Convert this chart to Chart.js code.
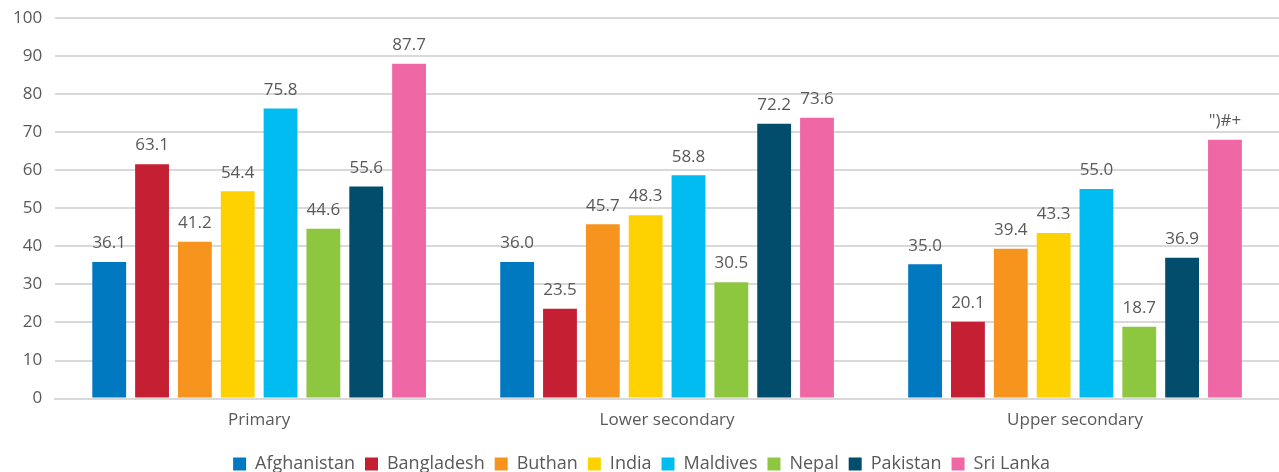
<!DOCTYPE html>
<html lang="en">
<head>
    <meta charset="UTF-8">
    <title>Education by level - South Asia</title>
    <script src="https://cdn.jsdelivr.net/npm/chart.js"></script>
    <style>
        html, body { margin: 0; padding: 0; background: #fff; }
        #wrap { width: 1279px; height: 472px; }
    </style>
</head>
<body>
    <div id="wrap"><canvas id="eduChart"></canvas></div>

    <script>
        // categories and series
        let levels = ['Primary', 'Lower secondary', 'Upper secondary'];
        let countries = ['Afghanistan', 'Bangladesh', 'Buthan', 'India', 'Maldives', 'Nepal', 'Pakistan', 'Sri Lanka'];
        let colors = ['#0079C1', '#C41F33', '#F7941D', '#FED100', '#00BCF1', '#8DC63F', '#024D6B', '#F067A6'];

        // bar heights as drawn, per country: [primary, lower secondary, upper secondary]
        let afghanistan = [35.9, 35.9, 35.3];
        let bangladesh = [61.6, 23.6, 20.2];
        let buthan = [41.2, 45.8, 39.4];
        let india = [54.5, 48.2, 43.5];
        let maldives = [76.2, 58.7, 55.1];
        let nepal = [44.6, 30.6, 18.9];
        let pakistan = [55.7, 72.2, 37.0];
        let sriLanka = [88.0, 73.8, 68.0];

        // printed labels (as shown in the source)
        let afghanistanLabels = ['36.1', '36.0', '35.0'];
        let bangladeshLabels = ['63.1', '23.5', '20.1'];
        let buthanLabels = ['41.2', '45.7', '39.4'];
        let indiaLabels = ['54.4', '48.3', '43.3'];
        let maldivesLabels = ['75.8', '58.8', '55.0'];
        let nepalLabels = ['44.6', '30.5', '18.7'];
        let pakistanLabels = ['55.6', '72.2', '36.9'];
        let sriLankaLabels = ['87.7', '73.6', '")#+'];

        let yTicks = [0, 10, 20, 30, 40, 50, 60, 70, 80, 90, 100];

        let seriesValues = [afghanistan, bangladesh, buthan, india, maldives, nepal, pakistan, sriLanka];
        let seriesLabels = [afghanistanLabels, bangladeshLabels, buthanLabels, indiaLabels, maldivesLabels, nepalLabels, pakistanLabels, sriLankaLabels];

        let textColor = '#595959';
        let fontFamily = '"Open Sans", "Noto Sans", sans-serif';

        // draws the printed number above each bar
        let valueLabels = {
            id: 'valueLabels',
            afterDatasetsDraw(chart) {
                let ctx = chart.ctx;
                ctx.save();
                ctx.font = '17px ' + fontFamily;
                ctx.fillStyle = textColor;
                ctx.textAlign = 'center';
                ctx.textBaseline = 'bottom';
                chart.data.datasets.forEach((ds, i) => {
                    let meta = chart.getDatasetMeta(i);
                    meta.data.forEach((bar, j) => {
                        ctx.fillText(seriesLabels[i][j], bar.x, bar.y - 10);
                    });
                });
                ctx.restore();
            }
        };

        let datasets = countries.map((name, i) => ({
            label: name,
            data: seriesValues[i],
            backgroundColor: colors[i],
            borderWidth: 0,
            categoryPercentage: 0.84,
            barPercentage: 0.79
        }));

        new Chart(document.getElementById('eduChart').getContext('2d'), {
            type: 'bar',
            data: { labels: levels, datasets: datasets },
            plugins: [valueLabels],
            options: {
                responsive: true,
                maintainAspectRatio: false,
                animation: false,
                layout: { padding: { top: 18, right: -4, left: 0, bottom: -11 } },
                plugins: {
                    tooltip: { enabled: false },
                    legend: {
                        position: 'bottom',
                        labels: {
                            boxWidth: 13,
                            boxHeight: 13,
                            padding: 10,
                            color: textColor,
                            font: { family: fontFamily, size: 18 }
                        }
                    }
                },
                scales: {
                    x: {
                        grid: { display: false },
                        border: { color: '#d9d9d9', width: 2 },
                        ticks: { color: textColor, font: { family: fontFamily, size: 17 }, padding: 3 },
                        afterFit: axis => { axis.height += 12; }
                    },
                    y: {
                        min: 0,
                        max: 100,
                        afterBuildTicks: axis => { axis.ticks = yTicks.map(v => ({ value: v })); },
                        afterFit: axis => { axis.paddingTop = 0; },
                        grid: { color: '#d9d9d9', lineWidth: 2, drawTicks: false },
                        border: { display: false },
                        ticks: { color: textColor, font: { family: fontFamily, size: 17 }, padding: 13 }
                    }
                }
            }
        });
    </script>
</body>
</html>
